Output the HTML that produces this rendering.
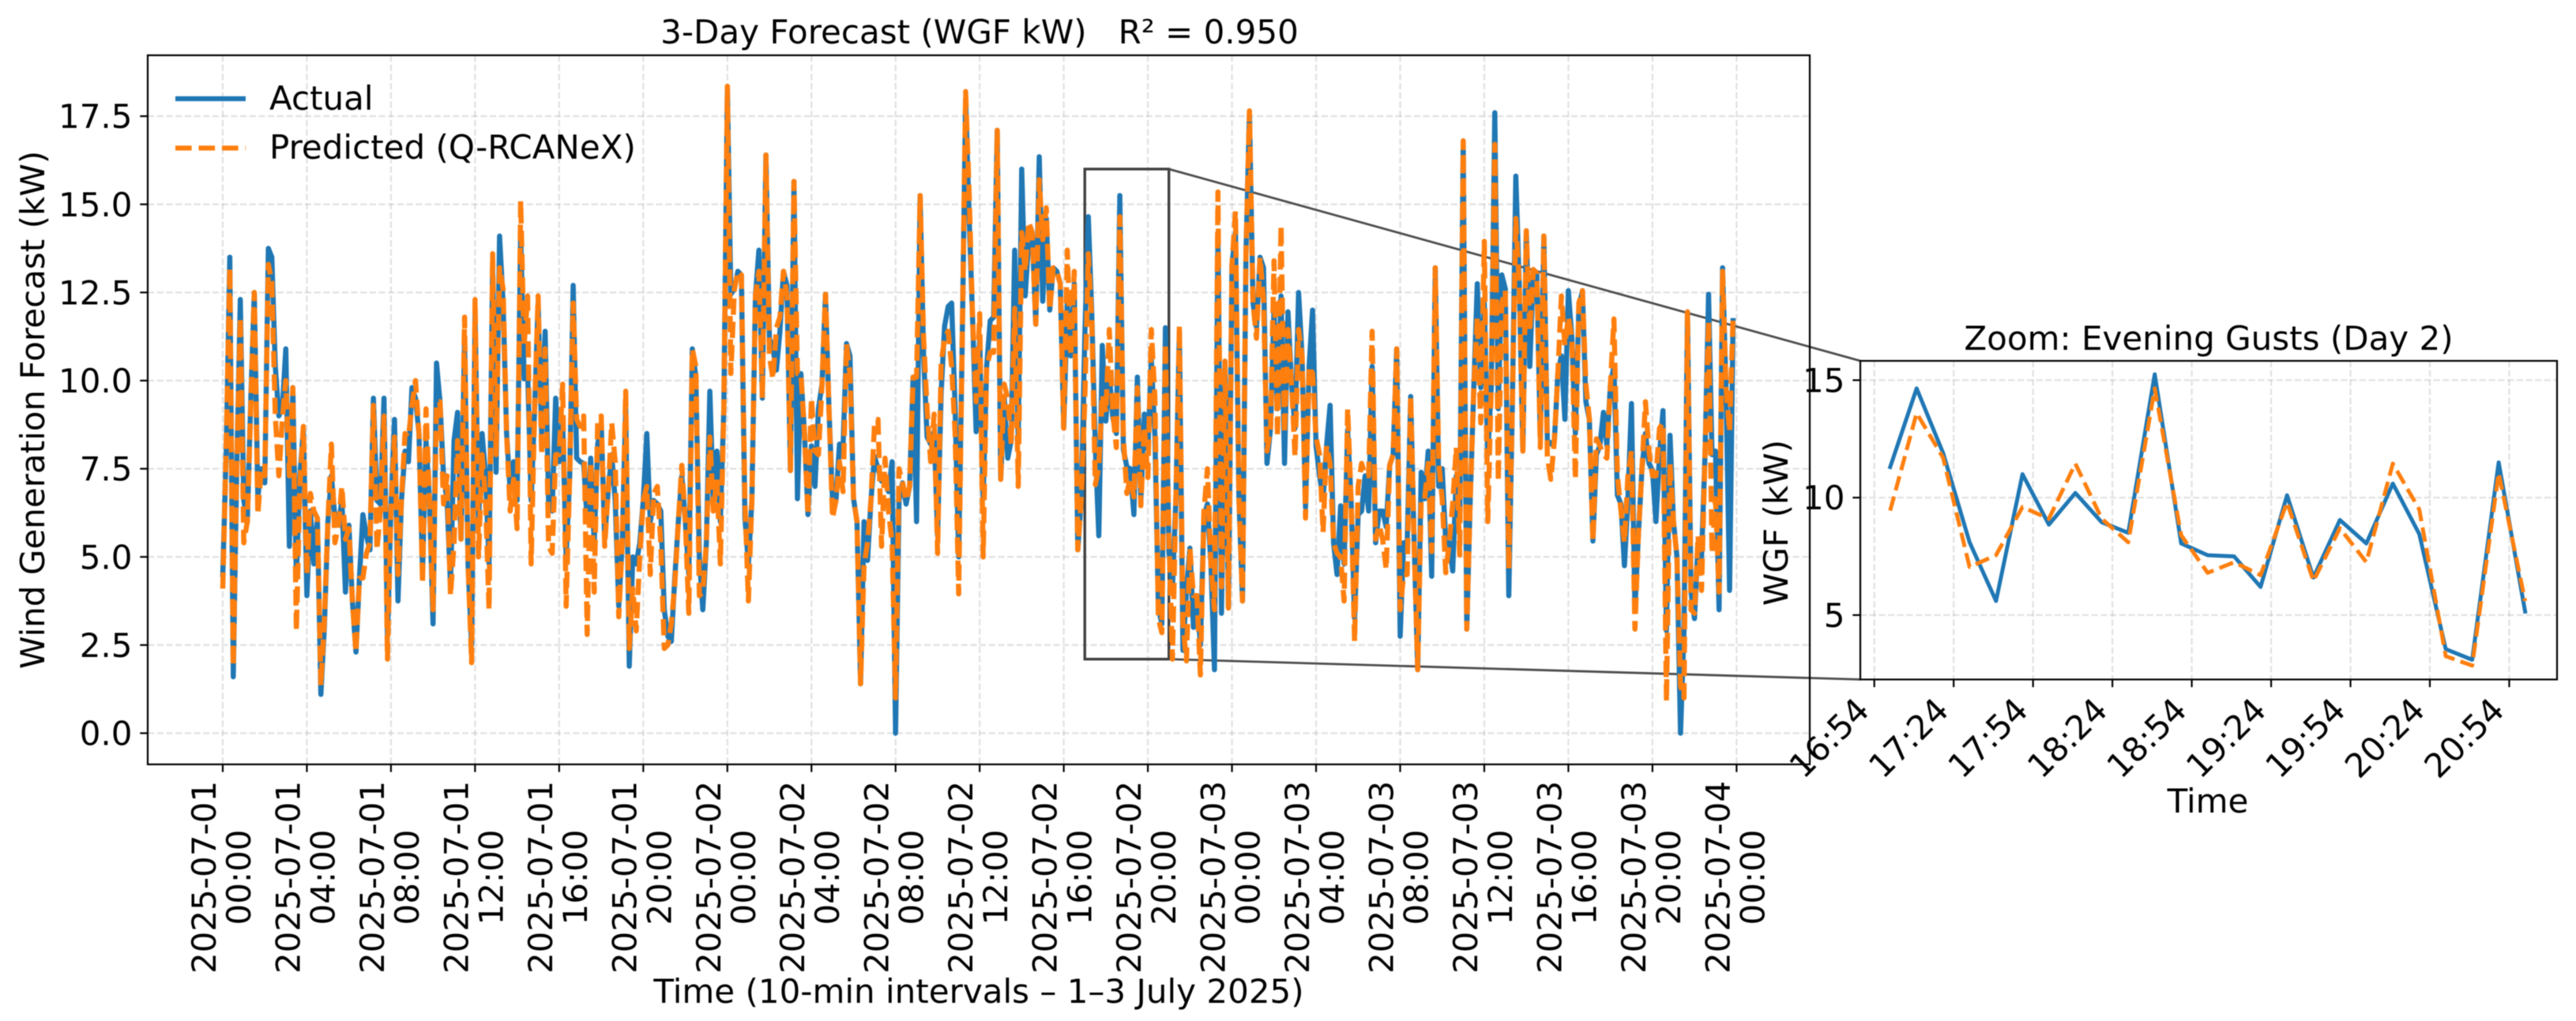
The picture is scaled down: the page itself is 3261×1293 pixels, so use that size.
<!DOCTYPE html>
<html lang="en">
<head>
<meta charset="utf-8">
<title>3-Day Forecast (WGF kW)</title>
<style>
html,body{margin:0;padding:0;background:#fff;width:3261px;height:1293px;overflow:hidden}
svg{display:block;font-family:"DejaVu Sans","Liberation Sans",sans-serif;fill:#000;filter:blur(0.6px)}
</style>
</head>
<body>
<svg id="chart" xmlns="http://www.w3.org/2000/svg" width="3261" height="1293" viewBox="0 0 3261 1293"></svg>
<script>
const actual = [
4.5,8.0,13.5,1.6,7.5,12.3,6.6,6.0,9.5,12.5,6.7,7.5,
7.1,13.75,13.5,10.4,9.0,9.2,10.9,5.3,9.8,4.4,7.3,8.6,
3.9,6.3,4.8,6.1,1.1,3.0,6.0,7.3,6.1,5.9,6.6,4.0,
5.9,3.75,2.3,4.4,6.2,5.6,5.2,9.5,6.6,6.5,9.5,2.75,
6.4,8.9,3.75,6.6,8.0,7.7,9.8,9.5,8.5,4.6,8.3,6.6,
3.1,10.5,9.4,7.3,6.6,4.2,8.3,9.1,5.5,11.2,4.8,2.5,
11.9,6.0,8.5,7.3,4.8,13.2,7.4,14.1,12.2,8.5,6.9,7.7,
6.6,14.2,10.05,10.3,6.6,9.2,12.2,8.5,11.4,6.5,6.3,9.5,
7.7,8.8,5.0,7.3,12.7,7.8,7.7,7.65,6.0,7.8,5.4,8.2,
8.8,5.5,6.9,7.9,6.6,3.6,5.4,9.2,1.9,5.0,4.8,5.4,
6.6,8.5,6.0,6.6,6.5,6.3,3.5,2.75,2.6,4.4,6.0,7.3,
6.0,4.5,10.9,10.1,5.0,3.5,5.4,9.7,6.6,8.0,6.0,9.2,
18.3,12.45,12.6,13.1,13.0,6.1,4.8,6.6,12.4,13.7,9.5,16.4,
11.2,10.9,10.3,11.4,13.1,12.7,7.45,15.65,6.65,10.2,8.5,6.2,
8.15,7.0,9.2,9.9,12.45,9.2,6.6,6.6,8.2,8.1,11.05,10.7,
6.65,6.0,1.4,6.0,4.9,6.65,7.85,7.5,7.15,7.3,6.85,7.7,
0,6.6,7.1,6.5,7.0,10.1,6.0,15.25,10.7,8.4,8.2,8.55,
5.6,9.65,11.55,12.1,12.2,9.2,5.0,11.0,18.0,14.6,11.7,8.55,
11.2,6.65,10.4,11.7,11.8,17.1,7.2,9.55,7.8,8.3,13.7,8.3,
16.0,12.4,14.0,14.2,11.6,16.35,12.25,14.6,12.0,13.2,13.1,12.75,
8.65,12.2,10.7,12.75,5.2,6.65,11.3,14.65,11.9,8.1,5.6,11.0,
8.85,10.2,8.95,8.5,15.25,8.05,7.55,7.5,6.2,10.1,6.6,9.05,
8.05,10.6,8.45,3.55,3.1,11.5,5.15,4.1,6.65,11.4,2.35,4.0,
5.25,3.0,3.9,2.5,6.15,6.5,4.75,1.8,14.2,3.4,10.55,3.55,
13.3,14.2,6.65,3.75,13.6,17.6,12.2,11.5,13.5,13.2,7.65,8.65,
12.05,9.2,12.4,7.65,11.95,9.9,8.65,12.5,10.7,6.4,10.4,12.0,
8.15,7.3,6.65,8.15,9.3,5.4,4.5,6.45,4.8,8.6,6.6,3.25,
6.2,6.3,7.3,6.3,10.4,5.4,6.3,6.3,5.85,7.6,7.9,10.9,
2.75,5.4,5.4,9.55,5.4,1.8,7.4,6.65,8.0,4.45,13.2,7.0,
7.5,5.4,5.4,4.6,7.3,6.0,16.8,2.95,6.65,9.8,12.75,9.8,
12.2,7.9,9.8,17.6,9.2,13.0,12.6,3.9,9.2,15.8,12.7,8.0,
14.25,10.4,13.15,13.05,8.4,14.1,8.3,8.2,8.3,10.2,10.7,8.9,
12.55,11.2,8.5,12.05,12.55,9.4,8.9,5.45,7.9,8.15,9.1,8.15,
9.9,10.4,6.75,6.5,4.75,6.65,9.35,3.5,5.65,7.5,8.5,7.65,
7.45,6.0,7.9,9.15,2.9,8.45,6.0,5.0,0,2.9,11.95,4.0,
3.25,5.4,5.0,7.9,12.45,7.9,8.0,3.5,13.2,9.8,4.05,11.7
];
const predicted = [
4.1,8.2,13.2,1.9,7.6,11.8,5.4,6.0,9.3,12.5,6.2,7.5,
7.3,13.3,12.8,9.0,7.3,8.9,10.0,7.3,9.8,2.9,7.0,8.7,
4.5,6.8,6.3,6.1,1.35,3.2,6.0,8.2,5.4,5.9,7.0,5.5,
5.8,3.75,2.3,4.4,4.4,5.1,5.4,9.3,5.2,6.3,9.0,2.1,
6.3,8.4,4.5,6.6,8.5,8.4,9.3,10.0,8.5,4.25,9.2,6.6,
3.5,9.3,9.4,6.5,7.3,3.9,5.4,8.3,5.5,11.8,4.8,2.0,
12.3,5.0,7.9,6.6,3.5,13.6,7.9,13.2,12.6,8.5,6.3,7.2,
5.8,15.1,11.0,12.4,4.8,9.2,12.4,7.9,10.9,5.3,5.1,7.9,
7.9,9.9,3.6,7.3,12.2,8.9,8.7,9.0,2.8,7.7,4.0,8.9,
9.0,5.3,6.9,8.8,7.7,3.3,5.4,9.7,2.4,4.1,2.9,5.0,
6.6,7.0,4.5,6.8,7.0,5.4,2.4,2.5,3.1,4.2,6.0,7.6,
6.0,3.4,10.9,10.4,3.9,4.0,5.4,8.4,6.3,7.2,4.8,9.2,
18.35,10.2,12.6,13.1,13.0,6.6,3.75,6.6,12.4,13.1,9.5,16.4,
10.7,10.05,11.5,11.8,13.1,12.4,7.45,15.65,10.2,10.2,8.5,6.2,
9.5,8.0,7.9,9.9,12.45,9.2,6.1,6.6,7.7,6.85,11.05,10.2,
6.65,6.0,1.4,4.75,5.4,6.65,8.8,8.9,5.3,7.8,6.3,5.4,
1.0,7.5,7.1,6.6,7.0,10.1,10.1,15.25,11.2,9.2,7.7,9.05,
5.1,10.5,11.2,11.4,10.4,8.5,3.95,11.0,18.2,15.3,11.7,9.4,
11.9,5.0,10.4,10.8,10.8,17.1,7.2,9.9,9.5,8.2,12.05,7.0,
14.2,13.1,14.5,14.2,11.6,15.7,14.0,14.9,12.0,13.2,13.1,12.75,
8.65,13.7,10.7,13.1,5.2,6.65,9.45,13.6,11.7,7.05,7.55,9.6,
9.1,11.45,9.1,8.1,14.65,8.4,6.8,7.25,6.7,9.8,6.45,8.7,
7.25,11.45,9.5,3.25,2.85,11.05,5.6,2.1,6.65,11.55,3.1,2.05,
5.25,3.9,3.9,1.65,6.3,7.5,4.75,3.5,15.35,4.15,10.55,3.55,
13.3,14.8,6.65,3.75,13.6,17.65,12.2,11.2,13.5,12.3,8.0,8.65,
13.4,8.4,14.4,8.5,11.45,9.9,7.85,11.45,10.7,6.1,10.4,10.2,
8.4,7.9,5.7,8.15,7.65,5.4,5.1,5.0,3.75,9.2,6.6,2.6,
7.0,7.65,7.3,7.3,11.4,5.5,5.9,5.5,4.65,7.6,7.9,10.9,
3.5,4.5,4.5,9.55,5.4,1.8,6.65,6.65,7.65,5.15,13.2,7.65,
6.65,4.55,5.4,6.5,8.1,5.05,16.8,2.95,6.65,9.8,11.8,8.8,
13.95,6.0,9.8,16.7,7.15,12.2,12.55,4.65,9.2,14.6,12.7,8.0,
14.25,11.4,13.15,13.05,8.1,14.1,7.85,7.2,8.3,10.2,12.4,11.0,
11.8,11.2,7.2,12.2,12.55,9.9,8.9,5.45,8.35,8.15,7.9,7.8,
9.9,11.75,7.3,6.3,5.4,7.3,8.0,2.95,5.65,7.5,9.4,8.0,
7.3,7.3,8.65,8.8,0.9,7.65,6.0,5.0,1.35,1.0,11.95,3.5,
3.4,5.6,4.05,7.9,11.7,5.1,6.65,4.0,13.1,9.8,8.55,11.8
];
const mainYTicks = [0, 2.5, 5, 7.5, 10, 12.5, 15, 17.5];
const mainYTickLabels = ["0.0","2.5","5.0","7.5","10.0","12.5","15.0","17.5"];
const mainXTickHours = [0,4,8,12,16,20,24,28,32,36,40,44,48,52,56,60,64,68,72];
const mainXTickDates = ["2025-07-01","2025-07-01","2025-07-01","2025-07-01","2025-07-01","2025-07-01","2025-07-02","2025-07-02","2025-07-02","2025-07-02","2025-07-02","2025-07-02","2025-07-03","2025-07-03","2025-07-03","2025-07-03","2025-07-03","2025-07-03","2025-07-04"];
const mainXTickTimes = ["00:00","04:00","08:00","12:00","16:00","20:00","00:00","04:00","08:00","12:00","16:00","20:00","00:00","04:00","08:00","12:00","16:00","20:00","00:00"];
const zoomStartIndex = 246;
const zoomEndIndex = 270;
const zoomLow = 2.1;
const zoomHigh = 16.0;
const insetYTicks = [5, 10, 15];
const insetXTickLabels = ["16:54","17:24","17:54","18:24","18:54","19:24","19:54","20:24","20:54"];

const svg = document.getElementById('chart');
const NS = 'http://www.w3.org/2000/svg';
function make(tag, attrs, text) {
  const el = document.createElementNS(NS, tag);
  for (const k in attrs) el.setAttribute(k, attrs[k]);
  if (text !== undefined) el.textContent = text;
  svg.appendChild(el);
  return el;
}
const M = {l:187, r:2291, t:70, b:968};
const I = {l:2355, r:3237, t:457, b:860.5};
const mx = i => 282 + i * 4.436;
const mxHour = h => mx(h * 6);
const my = v => 928.5 - v * 44.65;
const ix = minute => 2392.8 + (minute - 1020) * 3.349;
const iy = v => 630.2 - (v - 10) * 29.75;
const toMinutes = s => { const p = s.split(':'); return (+p[0]) * 60 + (+p[1]); };
const pathFrom = (vals, fx, fy) => vals.map((v, i) => (i ? 'L' : 'M') + fx(i).toFixed(1) + ' ' + fy(v).toFixed(1)).join('');
const GRID = {stroke:'#b0b0b0', 'stroke-width':2.2, 'stroke-dasharray':'8.2 3.5', 'stroke-opacity':0.38};
const BLUE = '#1f77b4', ORANGE = '#ff7f0e', LINK = '#4d4d4d';
const FS = 42;

let el;
el = make('rect', {x:M.l, y:M.t, width:M.r-M.l, height:M.b-M.t, fill:'#fff'});



mainXTickHours.forEach(h => {
  el = make('line', Object.assign({x1:mxHour(h), x2:mxHour(h), y1:M.t, y2:M.b}, GRID));
  
  
});
mainYTicks.forEach(v => {
  el = make('line', Object.assign({x1:M.l, x2:M.r, y1:my(v), y2:my(v)}, GRID));
  
  
});

const rx1 = mx(zoomStartIndex), rx2 = mx(zoomEndIndex), ry1 = my(zoomHigh), ry2 = my(zoomLow);
el = make('rect', {x:rx1, y:ry1, width:rx2-rx1, height:ry2-ry1, fill:'none', stroke:'#404040', 'stroke-width':3.4});


el = make('line', {x1:rx2, y1:ry1, x2:I.l, y2:I.t, stroke:LINK, 'stroke-width':2.8});


el = make('line', {x1:rx2, y1:ry2, x2:I.l, y2:I.b, stroke:LINK, 'stroke-width':2.8});



el = make('path', {d:pathFrom(actual, mx, my), fill:'none', stroke:BLUE, 'stroke-width':6.5, 'stroke-linejoin':'round', 'stroke-linecap':'square'});


el = make('path', {d:pathFrom(predicted, mx, my), fill:'none', stroke:ORANGE, 'stroke-width':6.5, 'stroke-linejoin':'round', 'stroke-dasharray':'20.6 8.9'});



el = make('rect', {x:M.l, y:M.t, width:M.r-M.l, height:M.b-M.t, fill:'none', stroke:'#000', 'stroke-width':2.2});



mainXTickHours.forEach((h, i) => {
  const x = mxHour(h);
  el = make('line', {x1:x, x2:x, y1:M.b, y2:M.b+9.7, stroke:'#000', 'stroke-width':2.2});
  
  
  el = make('text', {transform:'translate('+(x-9)+' 1111) rotate(-90)', 'text-anchor':'middle', 'font-size':FS}, mainXTickDates[i]);
  
  
  el = make('text', {transform:'translate('+(x+35)+' 1111) rotate(-90)', 'text-anchor':'middle', 'font-size':FS}, mainXTickTimes[i]);
  
  
});
mainYTicks.forEach((v, i) => {
  el = make('line', {x1:M.l-9.7, x2:M.l, y1:my(v), y2:my(v), stroke:'#000', 'stroke-width':2.2});
  
  
  el = make('text', {x:M.l-19.5, y:my(v)+15, 'text-anchor':'end', 'font-size':FS}, mainYTickLabels[i]);
  
  
});

el = make('text', {x:1240, y:55, 'text-anchor':'middle', 'font-size':FS, 'xml:space':'preserve', style:'white-space:pre'}, '3-Day Forecast (WGF kW)   R² = 0.950');


el = make('text', {transform:'translate(56 519) rotate(-90)', 'text-anchor':'middle', 'font-size':FS}, 'Wind Generation Forecast (kW)');


el = make('text', {x:1239, y:1270, 'text-anchor':'middle', 'font-size':FS}, 'Time (10-min intervals – 1–3 July 2025)');



el = make('line', {x1:222, x2:311, y1:125, y2:125, stroke:BLUE, 'stroke-width':6.2});


el = make('text', {x:341, y:139, 'font-size':42}, 'Actual');


el = make('line', {x1:222, x2:311, y1:187.5, y2:187.5, stroke:ORANGE, 'stroke-width':6.2, 'stroke-dasharray':'20.6 8.9'});


el = make('text', {x:341, y:201, 'font-size':42}, 'Predicted (Q-RCANeX)');



el = make('rect', {x:I.l, y:I.t, width:I.r-I.l, height:I.b-I.t, fill:'#fff'});


insetXTickLabels.forEach(s => {
  const x = ix(toMinutes(s));
  el = make('line', Object.assign({x1:x, x2:x, y1:I.t, y2:I.b}, GRID));
  
  
});
insetYTicks.forEach(v => {
  el = make('line', Object.assign({x1:I.l, x2:I.r, y1:iy(v), y2:iy(v)}, GRID));
  
  
});
const insetActual = actual.slice(zoomStartIndex, zoomEndIndex + 1);
const insetPredicted = predicted.slice(zoomStartIndex, zoomEndIndex + 1);
const insetIdxX = i => ix(1020 + i * 10);
el = make('path', {d:pathFrom(insetActual, insetIdxX, iy), fill:'none', stroke:BLUE, 'stroke-width':5, 'stroke-linejoin':'round', 'stroke-linecap':'square'});


el = make('path', {d:pathFrom(insetPredicted, insetIdxX, iy), fill:'none', stroke:ORANGE, 'stroke-width':5, 'stroke-linejoin':'round', 'stroke-dasharray':'18.5 8'});


el = make('rect', {x:I.l, y:I.t, width:I.r-I.l, height:I.b-I.t, fill:'none', stroke:'#000', 'stroke-width':2.2});



insetXTickLabels.forEach(s => {
  const x = ix(toMinutes(s));
  el = make('line', {x1:x, x2:x, y1:I.b, y2:I.b+9.7, stroke:'#000', 'stroke-width':2.2});
  
  
  el = make('text', {transform:'translate('+(x-4)+' 902) rotate(-45)', 'text-anchor':'end', 'font-size':FS}, s);
  
  
});
insetYTicks.forEach(v => {
  el = make('line', {x1:I.l-9.7, x2:I.l, y1:iy(v), y2:iy(v), stroke:'#000', 'stroke-width':2.2});
  
  
  el = make('text', {x:I.l-19.5, y:iy(v)+15, 'text-anchor':'end', 'font-size':FS}, String(v));
  
  
});
el = make('text', {x:2796, y:443, 'text-anchor':'middle', 'font-size':FS}, 'Zoom: Evening Gusts (Day 2)');


el = make('text', {x:2795, y:1029, 'text-anchor':'middle', 'font-size':FS}, 'Time');


el = make('text', {transform:'translate(2263 662) rotate(-90)', 'text-anchor':'middle', 'font-size':FS}, 'WGF (kW)');


</script>
</body>
</html>
